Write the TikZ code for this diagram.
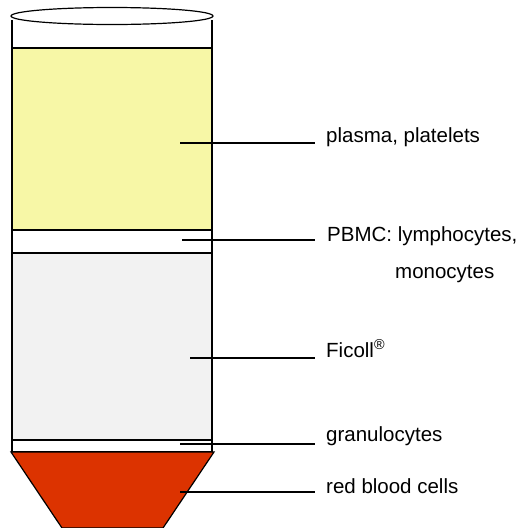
\documentclass[tikz,border=0pt]{standalone}
\usepackage{fontspec}
\setmainfont{Liberation Sans}
\definecolor{plasmay}{RGB}{247,247,166}
\definecolor{ficollg}{RGB}{242,242,242}
\definecolor{rbc}{RGB}{220,51,0}
\begin{document}
\begin{tikzpicture}[x=1pt,y=-1pt,
  band/.style={draw=black,line width=1.2pt},
  leader/.style={draw=black,line width=1.2pt},
  lbl/.style={anchor=base west,inner sep=0pt,font=\fontsize{20.5}{22}\selectfont}]
\useasboundingbox (0,0) rectangle (520,528);
% tube walls
\draw[line width=1.2pt] (12,20) -- (12,452);
\draw[line width=1.2pt] (212,20) -- (212,452);
% top ellipse
\draw[line width=1.2pt] (112,16) ellipse [x radius=101, y radius=8.5];
% bands
\path[band,fill=plasmay] (12,48) rectangle (212,230);
\path[band,fill=white] (12,230) rectangle (212,253);
\path[band,fill=ficollg] (12,253) rectangle (212,440);
\path[band,fill=white] (12,440) rectangle (212,452);
\path[band,fill=rbc] (11,452) -- (214,452) -- (163,528) -- (62,528) -- cycle;
% leaders
\coordinate (p1) at (180,143);
\coordinate (p2) at (182,240);
\coordinate (p3) at (190,358);
\coordinate (p4) at (180,444);
\coordinate (p5) at (180,492);
\node[lbl] (t1) at (326,142) {plasma, platelets};
\node[lbl] (t2) at (327,241) {PBMC: lymphocytes,};
\node[lbl] (t2b) at (395,278) {monocytes};
\node[lbl] (t3) at (326,357) {Ficoll\textsuperscript{\textregistered}};
\node[lbl] (t4) at (326,441) {granulocytes};
\node[lbl] (t5) at (326,493) {red blood cells};
\draw[leader] (p1) -- (315,143);
\draw[leader] (p2) -- (315,240);
\draw[leader] (p3) -- (315,358);
\draw[leader] (p4) -- (315,444);
\draw[leader] (p5) -- (315,492);
\end{tikzpicture}
\end{document}
